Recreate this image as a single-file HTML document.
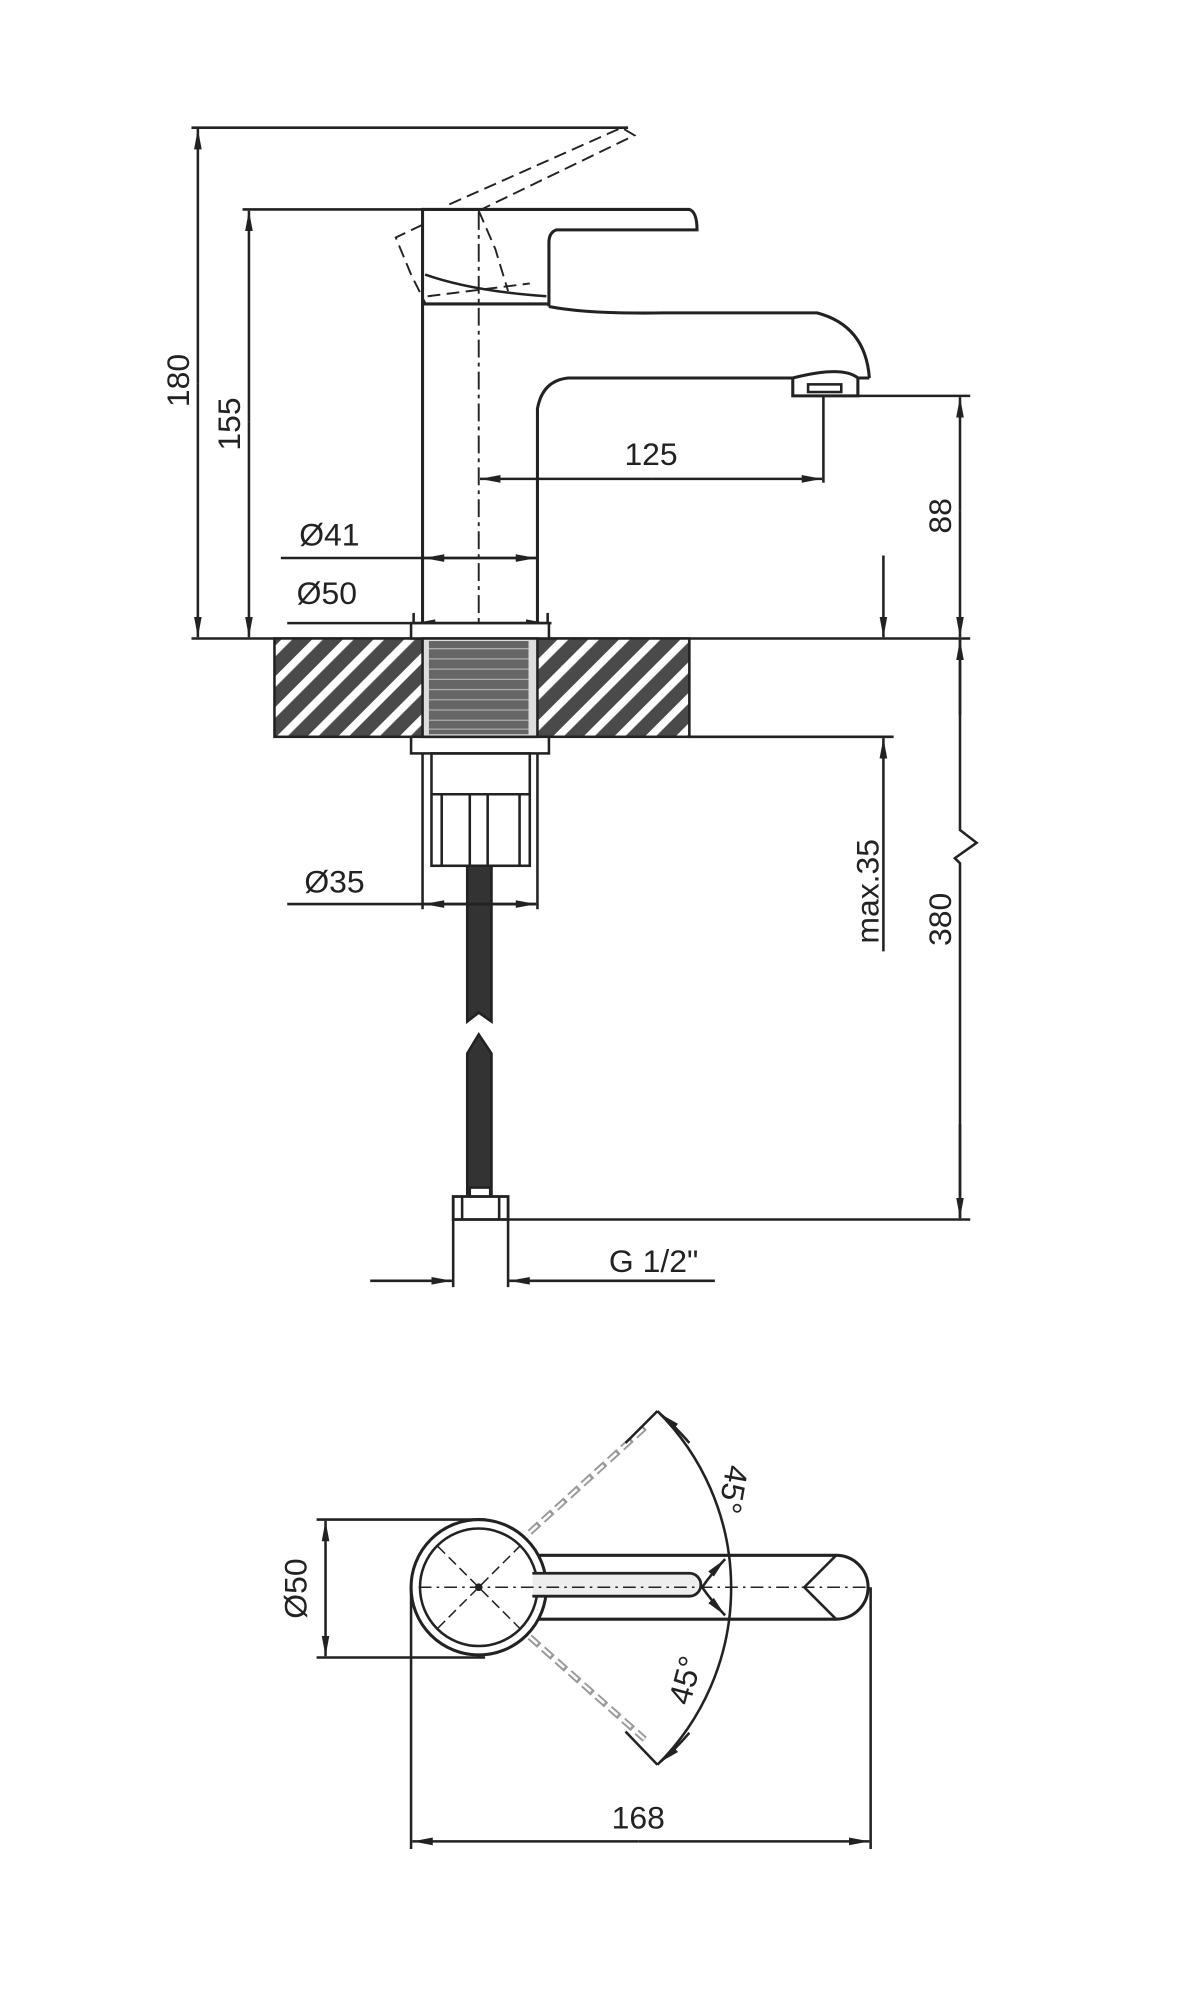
<!DOCTYPE html>
<html><head><meta charset="utf-8"><style>
html,body{margin:0;padding:0;background:#fff;}
svg{display:block;}
text{font-family:"Liberation Sans",sans-serif;fill:#222;}
</style></head><body>
<svg width="1200" height="2001" viewBox="0 0 940 1567" preserveAspectRatio="none" xmlns="http://www.w3.org/2000/svg">
<defs>
<marker id="a" viewBox="0 0 16 8" refX="16" refY="4" markerWidth="16" markerHeight="8" markerUnits="userSpaceOnUse" orient="auto">
<path d="M0,1 L16,4 L0,7 Z" fill="#222"/></marker>
<pattern id="h" width="17" height="17" patternUnits="userSpaceOnUse" patternTransform="rotate(45)">
<rect width="17" height="17" fill="#4a4a4a"/><rect x="0" y="0" width="6" height="17" fill="#fff"/></pattern>
</defs>
<g fill="none" stroke="#222" stroke-width="2">
<line x1="150" y1="100" x2="492" y2="100"/>
<line x1="150" y1="500" x2="760" y2="500"/>
<line x1="190" y1="164" x2="331" y2="164"/>
<line x1="155" y1="300" x2="155" y2="101" marker-end="url(#a)"/>
<line x1="155" y1="300" x2="155" y2="499" marker-end="url(#a)"/>
<line x1="195" y1="330" x2="195" y2="165" marker-end="url(#a)"/>
<line x1="195" y1="330" x2="195" y2="499" marker-end="url(#a)"/>
<path d="M331,490 V164 H540 Q546,166 546,180 H436 Q430,182 430,190 V240" stroke-width="2.4"/>
<path d="M331,238 H430" stroke-width="2.4"/>
<path d="M333,215 Q370,228 428,232"/>
<path d="M430,240 Q460,246 520,245 H640 Q678,255 681,296 M681,296 H672 V310 H621 V296 Q660,286 672,296" stroke-width="2.4"/>
<path d="M621,296 H445 Q425,298 421,320 V490" stroke-width="2.4"/>
<rect x="633" y="301" width="26" height="6"/>
<g stroke-dasharray="10,5" stroke-width="1.5">
<path d="M352,160 L487,100 L497,106 L375,165"/>
<path d="M331,176 L310,186 L322,215 L333,237"/>
<path d="M375,165 L388,195 L398,228"/>
<path d="M335,232 L415,222"/>
</g>
<path d="M375,166 V495" stroke-dasharray="14,4,3,4" stroke-width="1.5"/>
<line x1="645" y1="310" x2="645" y2="378"/>
<line x1="510" y1="375" x2="376" y2="375" marker-end="url(#a)"/>
<line x1="510" y1="375" x2="644" y2="375" marker-end="url(#a)"/>
<line x1="672" y1="310" x2="760" y2="310"/>
<line x1="752" y1="400" x2="752" y2="311" marker-end="url(#a)"/>
<line x1="752" y1="400" x2="752" y2="499" marker-end="url(#a)"/>
<line x1="220" y1="437" x2="420" y2="437"/>
<line x1="375" y1="437" x2="332" y2="437" marker-end="url(#a)"/>
<line x1="375" y1="437" x2="420" y2="437" marker-end="url(#a)"/>
<line x1="225" y1="488" x2="432" y2="488"/>
<line x1="375" y1="488" x2="325" y2="488" marker-end="url(#a)"/>
<line x1="375" y1="488" x2="428" y2="488" marker-end="url(#a)"/>
<line x1="324" y1="480" x2="324" y2="495"/><line x1="429" y1="480" x2="429" y2="495"/>
<rect x="215" y="500" width="325" height="77" fill="url(#h)"/>
<rect x="322" y="488" width="108" height="12" fill="#fff"/>
<rect x="322" y="577" width="108" height="13" fill="#fff"/>
<rect x="331" y="500" width="90" height="77" fill="#ddd"/>
<rect x="336" y="502" width="78" height="73" fill="#666" stroke="none"/>
<g stroke="#aaa" stroke-width="1">
<line x1="336" y1="508" x2="414" y2="508"/><line x1="336" y1="516" x2="414" y2="516"/><line x1="336" y1="524" x2="414" y2="524"/><line x1="336" y1="532" x2="414" y2="532"/><line x1="336" y1="540" x2="414" y2="540"/><line x1="336" y1="548" x2="414" y2="548"/><line x1="336" y1="556" x2="414" y2="556"/><line x1="336" y1="564" x2="414" y2="564"/><line x1="336" y1="571" x2="414" y2="571"/></g>
<line x1="331" y1="590" x2="331" y2="712"/><line x1="421" y1="590" x2="421" y2="712"/>
<rect x="338" y="590" width="77" height="88"/>
<line x1="338" y1="622" x2="415" y2="622"/>
<line x1="346" y1="622" x2="346" y2="678"/><line x1="368" y1="622" x2="368" y2="678"/><line x1="382" y1="622" x2="382" y2="678"/><line x1="407" y1="622" x2="407" y2="678"/>
<path d="M366,678 H385 V800 L375,793 L366,800 Z" fill="#333"/>
<path d="M366,935 V825 L375,810 L385,825 V935 Z" fill="#333"/>
<rect x="368" y="930" width="16" height="8" fill="#fff"/>
<rect x="355" y="937" width="43" height="18" fill="#fff" stroke-width="2.2"/>
<line x1="362" y1="937" x2="362" y2="955"/><line x1="391" y1="937" x2="391" y2="955"/>
<line x1="355" y1="955" x2="355" y2="1008"/><line x1="398" y1="955" x2="398" y2="1008"/>
<line x1="398" y1="955" x2="760" y2="955"/>
<line x1="290" y1="1003" x2="354" y2="1003" marker-end="url(#a)"/>
<line x1="560" y1="1003" x2="399" y2="1003" marker-end="url(#a)"/>
<line x1="225" y1="708" x2="420" y2="708"/>
<line x1="375" y1="708" x2="332" y2="708" marker-end="url(#a)"/>
<line x1="375" y1="708" x2="420" y2="708" marker-end="url(#a)"/>
<line x1="540" y1="577" x2="700" y2="577"/>
<line x1="692" y1="435" x2="692" y2="499" marker-end="url(#a)"/>
<line x1="692" y1="745" x2="692" y2="578" marker-end="url(#a)"/>
<path d="M752,501 V650 L765,660 L748,672 L752,676 V954"/>
<line x1="752" y1="560" x2="752" y2="501" marker-end="url(#a)"/>
<line x1="752" y1="880" x2="752" y2="954" marker-end="url(#a)"/>
<line x1="248" y1="1190" x2="380" y2="1190"/><line x1="248" y1="1298" x2="380" y2="1298"/>
<line x1="255" y1="1244" x2="255" y2="1191" marker-end="url(#a)"/>
<line x1="255" y1="1244" x2="255" y2="1297" marker-end="url(#a)"/>
<g stroke="#999" stroke-width="5" stroke-dasharray="10,4"><line x1="415" y1="1200" x2="505" y2="1118"/><line x1="415" y1="1282" x2="505" y2="1362"/></g>
<g stroke="#fff" stroke-width="2" stroke-dasharray="8,6"><line x1="415" y1="1200" x2="505" y2="1118"/><line x1="415" y1="1282" x2="505" y2="1362"/></g>
<path d="M420,1218 H655 A25,25 0 0 1 655,1268 H420" stroke-width="2.4" fill="#fff"/>
<path d="M655,1218 L630,1243 L655,1268" />
<circle cx="375" cy="1243" r="53" stroke-width="2.4" fill="#fff"/>
<circle cx="375" cy="1243" r="46" stroke-width="2"/>
<path d="M417,1232 H540 A9,9 0 0 1 540,1250 H417" stroke-width="2.2" fill="#eee"/>
<line x1="328" y1="1243" x2="680" y2="1243" stroke-dasharray="10,4,2,4" stroke-width="1.2"/>
<g stroke-dasharray="8,4" stroke-width="1.2"><line x1="343" y1="1211" x2="407" y2="1275"/><line x1="343" y1="1275" x2="407" y2="1211"/></g>
<circle cx="375" cy="1243" r="2" fill="#222"/>
<path d="M515,1105 A195,195 0 0 1 515,1382"/>
<line x1="490" y1="1130" x2="515" y2="1105"/><line x1="490" y1="1356" x2="515" y2="1382"/>
<path d="M540,1130 A195,195 0 0 0 517,1107" marker-end="url(#a)"/>
<path d="M540,1357 A195,195 0 0 1 517,1380" marker-end="url(#a)"/>
<path d="M550,1243 A195,195 0 0 1 568,1221" marker-end="url(#a)" fill="none"/>
<path d="M550,1243 A195,195 0 0 0 568,1265" marker-end="url(#a)" fill="none"/>
<line x1="322" y1="1243" x2="322" y2="1448"/><line x1="682" y1="1243" x2="682" y2="1448"/>
<line x1="500" y1="1442" x2="323" y2="1442" marker-end="url(#a)"/>
<line x1="500" y1="1442" x2="681" y2="1442" marker-end="url(#a)"/>
</g>
<g font-size="25">
<text x="0" y="0" transform="translate(148,298) rotate(-90)" text-anchor="middle">180</text>
<text x="0" y="0" transform="translate(188,332) rotate(-90)" text-anchor="middle">155</text>
<text x="510" y="364" text-anchor="middle">125</text>
<text x="0" y="0" transform="translate(745,404) rotate(-90)" text-anchor="middle">88</text>
<text x="258" y="427" text-anchor="middle">Ø41</text>
<text x="256" y="473" text-anchor="middle">Ø50</text>
<text x="262" y="699" text-anchor="middle">Ø35</text>
<text x="0" y="0" transform="translate(688,698) rotate(-90)" text-anchor="middle">max.35</text>
<text x="0" y="0" transform="translate(745,720) rotate(-90)" text-anchor="middle">380</text>
<text x="512" y="996" text-anchor="middle">G 1/2"</text>
<text x="0" y="0" transform="translate(240,1244) rotate(-90)" text-anchor="middle">Ø50</text>
<text x="0" y="0" transform="translate(566,1165) rotate(100)" text-anchor="middle">45°</text>
<text x="0" y="0" transform="translate(545,1318) rotate(-75)" text-anchor="middle">45°</text>
<text x="500" y="1432" text-anchor="middle">168</text>
</g>
</svg>
</body></html>
